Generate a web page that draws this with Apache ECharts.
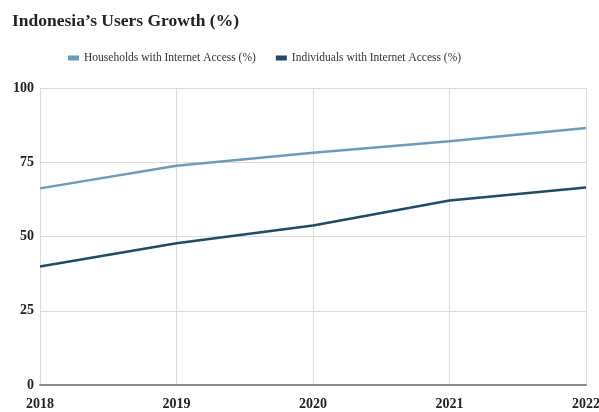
<!DOCTYPE html>
<html>
<head>
<meta charset="utf-8">
<script src="https://cdn.jsdelivr.net/npm/echarts@6/dist/echarts.min.js"></script>
<style>
  html, body { margin: 0; padding: 0; background: #fff; }
  #chart { width: 599px; height: 412px; }
</style>
</head>
<body>
<div id="chart"></div>
<script>
var years = ["2018", "2019", "2020", "2021", "2022"];
var households = [66.2, 73.8, 78.2, 82.1, 86.5];
var individuals = [39.9, 47.7, 53.7, 62.1, 66.5];
var yTicks = [0, 25, 50, 75, 100];

var serif = "'Liberation Serif', 'DejaVu Serif', serif";

var myChart = echarts.init(document.getElementById("chart"));
var option = {
  backgroundColor: "#fff",
  animation: false,
  title: {
    text: "Indonesia\u2019s Users Growth (%)",
    left: 7,
    top: 7,
    textStyle: { fontFamily: serif, fontSize: 17.5, fontWeight: "bold", color: "#222" }
  },
  legend: {
    top: 47,
    left: 63,
    itemWidth: 11,
    itemHeight: 5,
    itemGap: 20,
    icon: "rect",
    textStyle: { fontFamily: serif, fontSize: 11.5, color: "#333" },
    data: ["Households with Internet Access (%)", "Individuals with Internet Access (%)"]
  },
  grid: { left: 40, right: 13, top: 88, bottom: 27, outerBoundsMode: "none" },
  xAxis: {
    type: "category",
    boundaryGap: false,
    data: years,
    axisTick: { show: false },
    axisLine: { lineStyle: { color: "#8a8a8a", width: 2 } }, // bottom line
    splitLine: { show: true, lineStyle: { color: "#dcdcdc" } },
    axisLabel: { fontFamily: serif, fontSize: 14, fontWeight: "bold", color: "#222", margin: 12 }
  },
  yAxis: {
    type: "value",
    min: yTicks[0],
    max: yTicks[yTicks.length - 1],
    interval: 25,
    axisLine: { show: false },
    axisTick: { show: false },
    splitLine: { lineStyle: { color: "#dcdcdc" } },
    axisLabel: { fontFamily: serif, fontSize: 14, fontWeight: "bold", color: "#222", margin: 6 }
  },
  series: [
    {
      name: "Households with Internet Access (%)",
      type: "line",
      data: households,
      symbol: "none",
      color: "#6b9dbb",
      lineStyle: { width: 2.5 }
    },
    {
      name: "Individuals with Internet Access (%)",
      type: "line",
      data: individuals,
      symbol: "none",
      color: "#1f4b66",
      lineStyle: { width: 2.5 }
    }
  ]
};
myChart.setOption(option);
</script>
</body>
</html>
